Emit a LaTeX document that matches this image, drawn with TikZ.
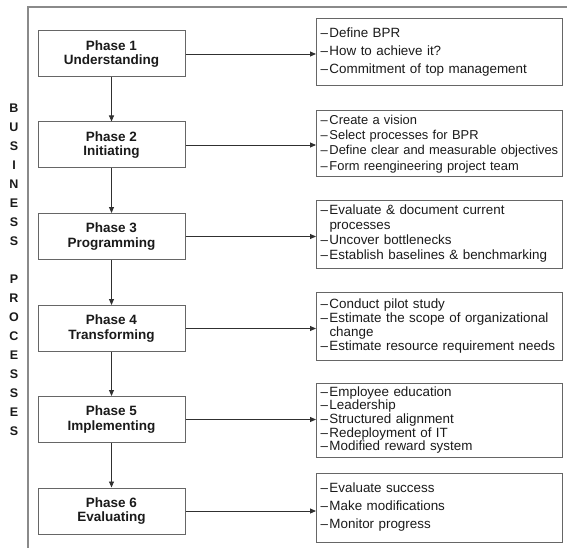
\documentclass[tikz,border=0pt]{standalone}
\usepackage{fontspec}
\setmainfont{Liberation Sans}
\usetikzlibrary{arrows.meta}
\definecolor{textc}{HTML}{1A1A1A}
\definecolor{boxgray}{HTML}{666666}
\definecolor{linegray}{HTML}{303030}
\definecolor{framegray}{HTML}{8A8A8A}
\newcommand\itm{\makebox[9pt][l]{–}}
\newcommand\cont{\hspace*{9pt}}
\begin{document}
\begin{tikzpicture}[x=1pt,y=-1pt,
  phase/.style={draw=boxgray, line width=1pt, minimum width=147pt, minimum height=46pt,
    inner sep=0pt, align=center, text=textc,
    font=\fontsize{13.5}{14.5}\selectfont\bfseries},
  items/.style={draw=boxgray, line width=1pt, anchor=west, text width=238pt,
    inner xsep=4pt, inner ysep=0pt, align=left, text=textc},
  link/.style={draw=linegray, line width=0.9pt, -{Triangle[length=6pt,width=5pt]}},
  frame/.style={draw=framegray, line width=1.6pt}
]
\useasboundingbox (0,0) rectangle (567,548);
% frame
\coordinate (ftr) at (567,7);
\coordinate (ftl) at (28,7);
\coordinate (fbl) at (28,548);
\draw[frame] (ftr) -- (ftl) -- (fbl);
% vertical label
\node[font=\fontsize{12.5}{19}\selectfont\bfseries, align=center, text=textc, inner sep=0pt]
  (vlabel) at (14,269.5) {B\\U\\S\\I\\N\\E\\S\\S\\\mbox{}\\P\\R\\O\\C\\E\\S\\S\\E\\S};
% phase boxes
\node[phase] (p1) at (111.5,54)    {Phase 1\\Understanding};
\node[phase] (p2) at (111.5,145)   {Phase 2\\Initiating};
\node[phase] (p3) at (111.5,236.5) {Phase 3\\Programming};
\node[phase] (p4) at (111.5,328.5) {Phase 4\\Transforming};
\node[phase] (p5) at (111.5,419.5) {Phase 5\\Implementing};
\node[phase] (p6) at (111.5,511)   {Phase 6\\Evaluating};
% item boxes
\node[items, minimum height=67pt, font=\fontsize{13.4}{18}\selectfont] (r1) at (316,52.5)
  {\itm Define BPR\\\itm How to achieve it?\\\itm Commitment of top management};
\node[items, minimum height=66pt, font=\fontsize{12.9}{15.3}\selectfont] (r2) at (316,144)
  {\itm Create a vision\\\itm Select processes for BPR\\\itm Define clear and measurable objectives\\\itm Form reengineering project team};
\node[items, minimum height=68pt, font=\fontsize{13.4}{15}\selectfont] (r3) at (316,234)
  {\itm Evaluate \& document current\\\cont processes\\\itm Uncover bottlenecks\\\itm Establish baselines \& benchmarking};
\node[items, minimum height=68pt, font=\fontsize{13.4}{14}\selectfont] (r4) at (316,326)
  {\itm Conduct pilot study\\\itm Estimate the scope of organizational\\\cont change\\\itm Estimate resource requirement needs};
\node[items, minimum height=74pt, font=\fontsize{13.4}{13.6}\selectfont] (r5) at (316,420)
  {\itm Employee education\\\itm Leadership\\\itm Structured alignment\\\itm Redeployment of IT\\\itm Modified reward system};
\node[items, minimum height=69pt, font=\fontsize{13.4}{18}\selectfont] (r6) at (316,507.5)
  {\itm Evaluate success\\\itm Make modifications\\\itm Monitor progress};
% vertical arrows
\draw[link] (p1.south) -- (p2.north);
\draw[link] (p2.south) -- (p3.north);
\draw[link] (p3.south) -- (p4.north);
\draw[link] (p4.south) -- (p5.north);
\draw[link] (p5.south) -- (p6.north);
% horizontal arrows
\foreach \i in {1,...,6} {
  \draw[link] (p\i.east) -- (p\i.east -| r\i.west);
}
\end{tikzpicture}
\end{document}
